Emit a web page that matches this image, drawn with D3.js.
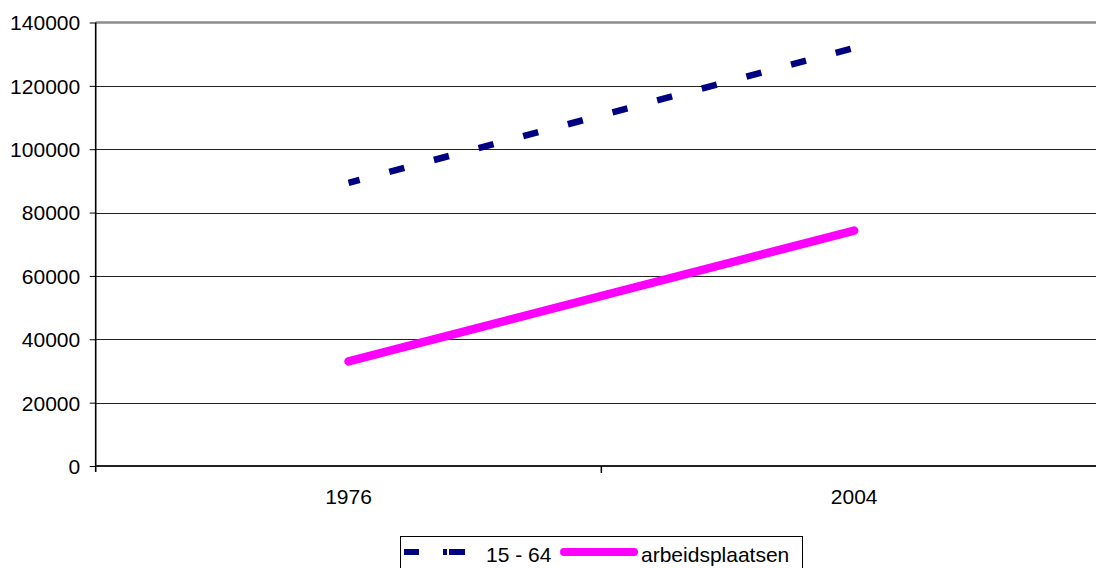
<!DOCTYPE html>
<html>
<head>
<meta charset="utf-8">
<script src="https://cdn.jsdelivr.net/npm/d3@7"></script>
<style>
  html, body { margin: 0; padding: 0; background: #fff; }
  svg { display: block; font-family: "Liberation Sans", Arial, sans-serif; }
</style>
</head>
<body>
<svg id="chart" width="1096" height="568"></svg>
<script>
// Jaren op de categorie-as
const years = ["1976", "2004"];
// Bevolking 15 - 64 jaar
const pop1564 = [89400, 132000];
// Arbeidsplaatsen
const jobs = [33000, 74300];
// Waarden op de y-as
const yTicks = [0, 20000, 40000, 60000, 80000, 100000, 120000, 140000];
const seriesNames = ["15 - 64", "arbeidsplaatsen"];

const svg = d3.select("#chart");
const plotLeft = 95.7, plotRight = 1107, plotTop = 22.5, plotBottom = 466;
const fontSize = "21px";

const x = d3.scaleBand().domain(years).range([plotLeft, plotRight]).padding(0);
const y = d3.scaleLinear().domain([0, 140000]).range([plotBottom, plotTop]);
const cx = d => x(d) + x.bandwidth() / 2;

// Horizontale rasterlijnen
svg.append("g")
  .selectAll("line")
  .data(yTicks.filter(t => t > 0 && t < 140000))
  .join("line")
  .attr("x1", plotLeft).attr("x2", plotRight)
  .attr("y1", d => Math.round(y(d)) + 0.5).attr("y2", d => Math.round(y(d)) + 0.5)
  .attr("stroke", "#222").attr("stroke-width", 1);

// Bovenrand van het tekengebied
svg.append("line")
  .attr("x1", plotLeft).attr("x2", plotRight)
  .attr("y1", y(140000)).attr("y2", y(140000))
  .attr("stroke", "#8c8c8c").attr("stroke-width", 2.5);

// Y-as met labels
const yAxis = d3.axisLeft(y).tickValues(yTicks).tickSize(6).tickPadding(9)
  .tickFormat(d3.format("d"));
const gy = svg.append("g").attr("transform", `translate(${plotLeft},0)`).call(yAxis);
gy.select(".domain").attr("stroke", "#000").attr("stroke-width", 1.6)
  .attr("d", `M0,${plotTop}V${plotBottom + 6}`);
gy.selectAll(".tick line").attr("stroke", "#000").attr("stroke-width", 1);
gy.selectAll(".tick text")
  .attr("font-size", fontSize)
  .attr("font-family", "Liberation Sans, Arial, sans-serif")
  .attr("fill", "#000")
  .attr("x", -15.5)
  .attr("dy", "0.35em");

// X-as (nullijn) met maatstreepjes tussen de categorieën
svg.append("line")
  .attr("x1", plotLeft).attr("x2", plotRight)
  .attr("y1", plotBottom).attr("y2", plotBottom)
  .attr("stroke", "#222").attr("stroke-width", 2);
svg.append("g")
  .selectAll("line")
  .data(years.slice(1))
  .join("line")
  .attr("x1", d => x(d)).attr("x2", d => x(d))
  .attr("y1", plotBottom).attr("y2", plotBottom + 7)
  .attr("stroke", "#000").attr("stroke-width", 1.5);
svg.append("g")
  .selectAll("text")
  .data(years)
  .join("text")
  .attr("x", d => cx(d))
  .attr("y", 504)
  .attr("text-anchor", "middle")
  .attr("font-size", fontSize)
  .attr("fill", "#000")
  .text(d => d);

// Lijnen
const line = d3.line().x((v, i) => cx(years[i])).y(v => y(v));

svg.append("path")
  .datum(jobs)
  .attr("d", line)
  .attr("fill", "none")
  .attr("stroke", "#ff00ff")
  .attr("stroke-width", 8.5)
  .attr("stroke-linecap", "round");

svg.append("path")
  .datum(pop1564)
  .attr("d", line)
  .attr("fill", "none")
  .attr("stroke", "#000080")
  .attr("stroke-width", 6.5)
  .attr("stroke-dasharray", "15.5,30.7")
  .attr("stroke-dashoffset", 4);

// Legenda
const lg = svg.append("g");
lg.append("rect")
  .attr("x", 400.5).attr("y", 536.5)
  .attr("width", 402).attr("height", 60)
  .attr("fill", "#fff").attr("stroke", "#000").attr("stroke-width", 1);

lg.append("line")
  .attr("x1", 404).attr("x2", 465)
  .attr("y1", 552).attr("y2", 552)
  .attr("stroke", "#000080").attr("stroke-width", 6)
  .attr("stroke-dasharray", "15,24,4,2,16");
lg.append("text")
  .attr("x", 486).attr("y", 561.7)
  .attr("font-size", fontSize).attr("fill", "#000")
  .text(seriesNames[0]);

lg.append("line")
  .attr("x1", 564).attr("x2", 634)
  .attr("y1", 552).attr("y2", 552)
  .attr("stroke", "#ff00ff").attr("stroke-width", 8)
  .attr("stroke-linecap", "round");
lg.append("text")
  .attr("x", 641).attr("y", 561.7)
  .attr("font-size", fontSize).attr("fill", "#000")
  .text(seriesNames[1]);
</script>
</body>
</html>
